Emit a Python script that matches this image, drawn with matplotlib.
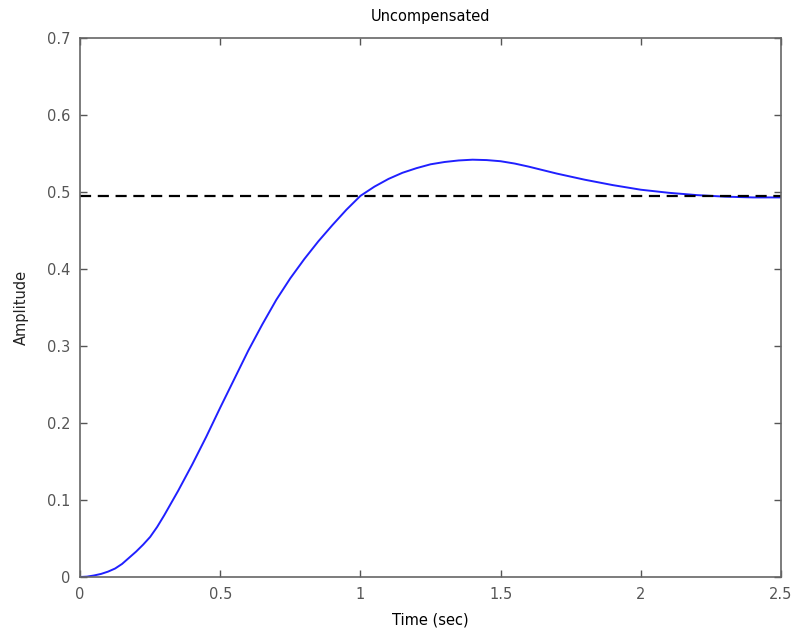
import matplotlib.pyplot as plt

# step response
time = [0, 0.025, 0.05, 0.075, 0.1, 0.125, 0.15, 0.175, 0.2, 0.225, 0.25, 0.275,
        0.3, 0.35, 0.4, 0.45, 0.5, 0.55, 0.6, 0.65, 0.7, 0.75, 0.8, 0.85,
        0.9, 0.95, 1.0, 1.05, 1.1, 1.15, 1.2, 1.25, 1.3, 1.35, 1.4, 1.45,
        1.5, 1.55, 1.6, 1.7, 1.8, 1.9, 2.0, 2.1, 2.2, 2.3, 2.4, 2.5]
amplitude = [0, 0.0005, 0.002, 0.004, 0.007, 0.011, 0.017, 0.025, 0.033, 0.042, 0.052, 0.065,
             0.080, 0.112, 0.146, 0.182, 0.220, 0.257, 0.294, 0.328, 0.360, 0.388, 0.413, 0.436,
             0.457, 0.477, 0.495, 0.507, 0.517, 0.525, 0.531, 0.536, 0.539, 0.541, 0.542, 0.5415,
             0.540, 0.537, 0.533, 0.524, 0.516, 0.509, 0.503, 0.499, 0.496, 0.494, 0.493, 0.493]
final_value = 0.495

xticks = [0, 0.5, 1, 1.5, 2, 2.5]
xticklabels = ['0', '0.5', '1', '1.5', '2', '2.5']
yticks = [0, 0.1, 0.2, 0.3, 0.4, 0.5, 0.6, 0.7]
yticklabels = ['0', '0.1', '0.2', '0.3', '0.4', '0.5', '0.6', '0.7']

fig = plt.figure(figsize=(7.94, 6.34), dpi=100)
ax = fig.add_axes([0.1008, 0.0899, 0.8828, 0.8501])

ax.plot(time, amplitude, color='#2020ff', lw=1.4)
ax.axhline(final_value, color='black', ls=(0, (5, 3)), lw=1.6)

ax.set_xlim(0, 2.5)
ax.set_ylim(0, 0.7)
ax.set_xticks(xticks)
ax.set_xticklabels(xticklabels)
ax.set_yticks(yticks)
ax.set_yticklabels(yticklabels)
ax.tick_params(direction='in', top=True, right=True, length=5, width=1,
               color='#555555', labelsize=10.5, labelcolor='#555555', pad=7)
for s in ax.spines.values():
    s.set_color('#666666')
    s.set_linewidth(1.2)

ax.set_title('Uncompensated', fontsize=10.5, pad=12)
ax.set_xlabel('Time (sec)', fontsize=10.5, labelpad=8)
ax.set_ylabel('Amplitude', fontsize=10.5, labelpad=13, color='#222222')

fig.savefig('out.png', dpi=100)
